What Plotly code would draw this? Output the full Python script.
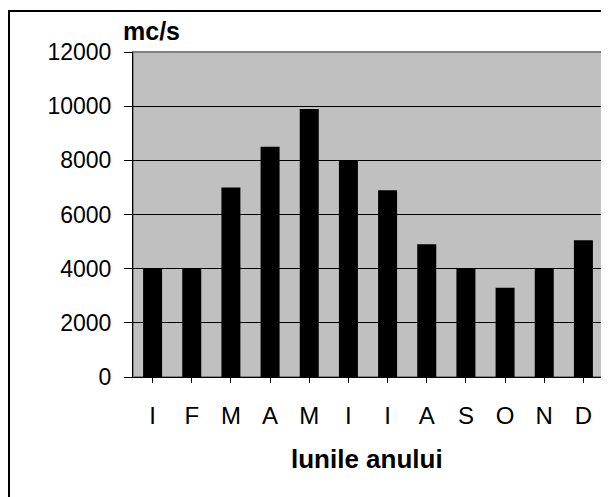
import plotly.graph_objects as go

months = ["I", "F", "M", "A", "M", "I", "I", "A", "S", "O", "N", "D"]
flow = [4000, 4000, 7000, 8500, 9900, 8000, 6900, 4900, 4000, 3300, 4000, 5050]
y_ticks = [0, 2000, 4000, 6000, 8000, 10000, 12000]
y_tick_labels = [str(v) for v in y_ticks]

# page body has an 8px default margin; compensate
OFF = 8
W, H = 609 - OFF, 497 - OFF
L, R, T, B = 133 - OFF, 6, 52 - OFF, 120
pw, ph = W - L - R, H - T - B

def px(x):
    # x given in window pixels
    return (x - OFF - L) / pw

def py(y):
    return (H - B - (y - OFF)) / ph

FONT = "Liberation Sans, Arial, sans-serif"

fig = go.Figure(go.Bar(
    x=list(range(len(months))),
    y=flow,
    marker=dict(color="black", line=dict(width=0)),
))

fig.update_layout(
    width=W, height=H,
    autosize=False,
    margin=dict(l=L, r=R, t=T, b=B, autoexpand=False),
    paper_bgcolor="white",
    plot_bgcolor="#C0C0C0",
    bargap=0.515,
    showlegend=False,
    font=dict(family=FONT, color="black", size=22),
    xaxis=dict(
        tickmode="array",
        tickvals=list(range(len(months))),
        ticktext=months,
        range=[-0.5, len(months) - 0.5],
        tickson="boundaries",
        ticks="outside", ticklen=5, tickwidth=1, tickcolor="black",
        showline=True, linecolor="black", linewidth=1,
        showgrid=False, zeroline=False,
        tickfont=dict(size=24),
        ticklabelstandoff=12,
        automargin=False,
    ),
    yaxis=dict(
        range=[0, 12000],
        tickmode="array",
        tickvals=y_ticks,
        ticktext=y_tick_labels,
        ticks="outside", ticklen=8, tickwidth=1, tickcolor="black",
        showline=True, linecolor="black", linewidth=1,
        showgrid=True, gridcolor="black", gridwidth=1,
        zeroline=False,
        tickfont=dict(size=23),
        ticklabelstandoff=8,
        automargin=False,
    ),
    shapes=[
        dict(type="rect", xref="paper", yref="paper",
             x0=0, x1=1, y0=0, y1=1,
             line=dict(color="#808080", width=2), layer="below"),
        dict(type="rect", xref="paper", yref="paper",
             x0=px(9), x1=px(640), y0=py(11), y1=py(540),
             line=dict(color="black", width=2), layer="above"),
    ],
    annotations=[
        dict(text="<b>mc/s</b>", xref="paper", yref="paper",
             x=px(121), y=py(31), xanchor="left", yanchor="middle",
             showarrow=False, font=dict(size=25, family=FONT)),
        dict(text="<b>lunile anului</b>", xref="paper", yref="paper",
             x=px(367), y=py(459), xanchor="center", yanchor="middle",
             showarrow=False, font=dict(size=26, family=FONT)),
    ],
)

fig.write_html("out.html")
